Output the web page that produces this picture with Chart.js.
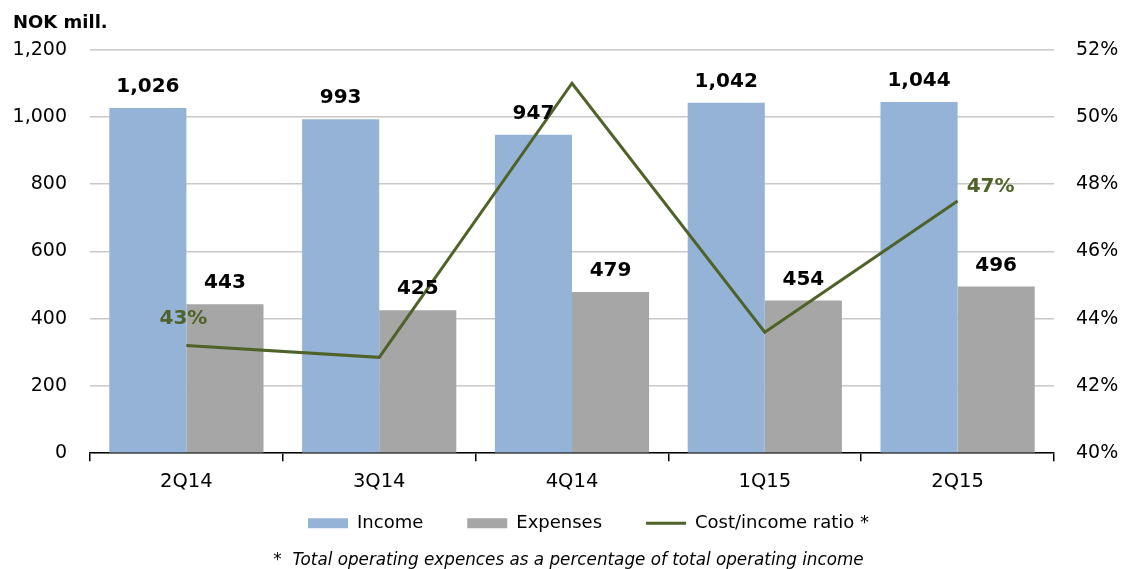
<!DOCTYPE html>
<html>
<head>
<meta charset="utf-8">
<script src="https://cdn.jsdelivr.net/npm/chart.js@4/dist/chart.umd.min.js"></script>
<style>
  html, body { margin: 0; padding: 0; background: #fff; }
  #wrap { width: 1124px; height: 569px; position: relative; }
</style>
</head>
<body>
<div id="wrap"><canvas id="c"></canvas></div>
<script>
const categories = ['2Q14', '3Q14', '4Q14', '1Q15', '2Q15'];
const income = [1026, 993, 947, 1042, 1044];
const expenses = [443, 425, 479, 454, 496];
const costIncomeRatio = [43.2, 42.85, 51.0, 43.6, 47.5];
const ratioLabels = ['43%', null, null, null, '47%'];
const leftTicks = [0, 200, 400, 600, 800, 1000, 1200];
const rightTicks = [40, 42, 44, 46, 48, 50, 52];

const FONT = '"DejaVu Sans", Verdana, sans-serif';
const GREEN = '#4f6228';

const labelPlugin = {
  id: 'valueLabels',
  afterLayout(chart) {
    const l = chart.legend;
    if (l) { l.left += 20; l.right += 20; }
    const x = chart.scales.x;
    if (x) { x.bottom = x.top + 45; }
  },
  afterDatasetsDraw(chart) {
    const ctx = chart.ctx;
    ctx.save();
    ctx.textAlign = 'center';
    ctx.textBaseline = 'middle';
    ctx.font = 'bold 20px ' + FONT;
    ctx.fillStyle = '#000';
    [0, 1].forEach(di => {
      const meta = chart.getDatasetMeta(di);
      meta.data.forEach((el, i) => {
        const v = chart.data.datasets[di].data[i];
        ctx.fillText(v.toLocaleString('en-US'), el.x, el.y - 21);
      });
    });
    const lm = chart.getDatasetMeta(2);
    ctx.fillStyle = GREEN;
    lm.data.forEach((el, i) => {
      const t = ratioLabels[i];
      if (!t) return;
      if (i === 0) ctx.fillText(t, el.x - 3, el.y - 27);
      else ctx.fillText(t, el.x + 33, el.y - 14);
    });
    ctx.restore();
  }
};

new Chart(document.getElementById('c'), {
  data: {
    labels: categories,
    datasets: [
      { type: 'bar', label: 'Income', data: income, backgroundColor: '#95b3d7', yAxisID: 'y', order: 2,
        barPercentage: 1.0, categoryPercentage: 0.8, pointStyle: 'rect' },
      { type: 'bar', label: 'Expenses', data: expenses, backgroundColor: '#a6a6a6', yAxisID: 'y', order: 2,
        barPercentage: 1.0, categoryPercentage: 0.8, pointStyle: 'rect' },
      { type: 'line', label: 'Cost/income ratio *', data: costIncomeRatio, borderColor: GREEN, backgroundColor: GREEN,
        borderWidth: 3, pointRadius: 0, tension: 0, yAxisID: 'y1', order: 1, pointStyle: 'line' }
    ]
  },
  options: {
    responsive: true,
    maintainAspectRatio: false,
    animation: false,
    layout: { padding: { left: 13, right: 0, top: 0, bottom: 0 } },
    plugins: {
      title: {
        display: true, text: 'NOK mill.', align: 'start', color: '#000',
        font: { family: FONT, size: 18, weight: 'bold' }, padding: { top: 13, bottom: 15 }
      },
      subtitle: {
        display: true, position: 'bottom', text: '*  Total operating expences as a percentage of total operating income',
        color: '#000', font: { family: FONT, size: 16.8, style: 'italic', lineHeight: 1 }, padding: { top: 10, bottom: 0 }
      },
      legend: {
        position: 'bottom',
        labels: {
          usePointStyle: true, pointStyleWidth: 40, boxHeight: 10, padding: 44,
          color: '#000', font: { family: FONT, size: 18 },
          sort: (a, b) => a.datasetIndex - b.datasetIndex
        }
      },
      tooltip: { enabled: false }
    },
    scales: {
      x: {
        offset: true,
        afterFit(s) { s.height = 17; },
        grid: { offset: true, drawOnChartArea: false, drawTicks: true, tickLength: 8, color: '#000', lineWidth: 1.5 },
        border: { display: true, color: '#000', width: 1.5 },
        ticks: { color: '#000', font: { family: FONT, size: 19.5 }, padding: 9 }
      },
      y: {
        position: 'left', min: 0, max: 1200,
        afterFit(s) { s.width = 77; },
        afterBuildTicks(s) { s.ticks = leftTicks.map(v => ({ value: v })); },
        grid: { color: '#c8c8c8', lineWidth: 1.5, drawTicks: false },
        border: { display: false },
        ticks: { color: '#000', font: { family: FONT, size: 19 }, padding: 23,
          callback: v => v.toLocaleString('en-US') }
      },
      y1: {
        position: 'right', min: 40, max: 52,
        afterFit(s) { s.width = 70; },
        afterBuildTicks(s) { s.ticks = rightTicks.map(v => ({ value: v })); },
        grid: { drawOnChartArea: false, drawTicks: false },
        border: { display: false },
        ticks: { color: '#000', font: { family: FONT, size: 19 }, padding: 22,
          callback: v => v + '%' }
      }
    }
  },
  plugins: [labelPlugin]
});
</script>
</body>
</html>
